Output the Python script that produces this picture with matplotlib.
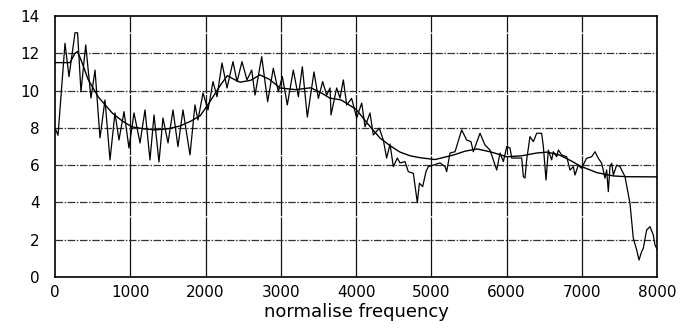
import matplotlib
matplotlib.use("Agg")
import matplotlib.pyplot as plt

# noisy spectrum (frequency, value)
spec_x = [0, 40, 133, 186, 266, 300, 345, 408, 478, 532, 598, 664, 731, 797, 850, 917, 983, 1050,
          1130, 1196, 1262, 1316, 1382, 1435, 1502, 1568, 1634, 1701, 1794, 1860, 1900, 1967, 2033,
          2100, 2153, 2219, 2286, 2365, 2419, 2485, 2551, 2614, 2658, 2747, 2826, 2901, 2968, 3021,
          3087, 3167, 3234, 3287, 3353, 3442, 3500, 3557, 3610, 3655, 3668, 3743, 3787, 3832, 3876,
          3942, 4009, 4076, 4120, 4186, 4230, 4310, 4363, 4407, 4452, 4496, 4549, 4585, 4651, 4695,
          4762, 4797, 4815, 4842, 4886, 4930, 4961, 5027, 5116, 5183, 5205, 5249, 5316, 5404, 5471,
          5528, 5559, 5648, 5714, 5781, 5825, 5870, 5914, 5958, 6003, 6047, 6069, 6202, 6224, 6246,
          6268, 6312, 6357, 6401, 6467, 6490, 6525, 6556, 6600, 6622, 6667, 6689, 6733, 6800, 6844,
          6888, 6910, 6954, 6998, 7064, 7132, 7176, 7220, 7265, 7309, 7331, 7353, 7375, 7398, 7420,
          7464, 7508, 7575, 7641, 7685, 7730, 7761, 7796, 7818, 7862, 7907, 7951, 7973, 8000]
spec_y = [8.0, 7.6, 12.54, 10.75, 13.1, 13.1, 9.94, 12.45, 9.6, 11.1, 7.46, 9.5, 6.28, 8.8, 7.35, 8.87, 6.92, 8.8,
          7.19, 8.96, 6.28, 8.69, 6.17, 8.53, 7.19, 8.96, 6.99, 8.96, 6.55, 9.23, 8.42, 9.87, 8.96,
          10.48, 9.67, 11.48, 10.14, 11.55, 10.48, 11.55, 10.57, 11.1, 9.76, 11.82, 9.4, 11.2, 9.94, 10.75,
          9.23, 11.1, 9.67, 11.28, 8.58, 11.0, 9.58, 10.48, 9.76, 10.14, 8.69, 10.14, 9.6, 10.57, 9.23,
          9.58, 8.53, 9.33, 8.06, 8.8, 7.62, 7.98, 7.35, 6.38, 7.13, 5.92, 6.38, 6.12, 6.19, 5.65,
          5.56, 4.5, 3.99, 5.03, 4.85, 5.65, 5.92, 6.0, 6.12, 5.92, 5.65, 6.65, 6.72, 7.89, 7.35,
          7.26, 6.72, 7.71, 7.08, 6.81, 6.28, 5.74, 6.65, 6.19, 6.99, 6.92, 6.38, 6.38, 5.38, 5.31,
          6.28, 7.53, 7.26, 7.71, 7.71, 6.99, 5.2, 6.81, 6.28, 6.72, 6.45, 6.81, 6.55, 6.45, 5.74,
          5.92, 5.47, 6.0, 5.83, 6.37, 6.45, 6.72, 6.37, 6.1, 5.3, 5.74, 4.58, 5.92, 6.1, 5.47,
          6.0, 5.92, 5.38, 3.95, 2.08, 1.45, 0.91, 1.36, 1.54, 2.52, 2.7, 2.25, 1.72, 1.5]

# smooth envelope
env_x = [0, 200, 265, 300, 350, 440, 575, 760, 900, 1025, 1180, 1330, 1500, 1660, 1800, 1930, 2050,
         2200, 2290, 2380, 2460, 2600, 2725, 2850, 2990, 3200, 3400, 3550, 3650, 3800, 4000, 4160,
         4320, 4450, 4585, 4720, 4850, 5050, 5300, 5450, 5610, 5800, 6000, 6200, 6400, 6540, 6700,
         6850, 6980, 7200, 7420, 7600, 8000]
env_y = [11.5, 11.5, 12.0, 12.1, 11.6, 10.6, 9.66, 8.8, 8.35, 8.05, 7.95, 7.89, 7.95, 8.1, 8.35, 8.65, 9.35,
         10.3, 10.8, 10.6, 10.45, 10.55, 10.84, 10.6, 10.14, 10.05, 10.15, 9.85, 9.6, 9.5, 9.0, 8.2,
         7.45, 7.05, 6.7, 6.5, 6.4, 6.3, 6.55, 6.75, 6.87, 6.7, 6.45, 6.5, 6.65, 6.7, 6.55,
         6.25, 5.95, 5.6, 5.42, 5.38, 5.37]

x_ticks = [0, 1000, 2000, 3000, 4000, 5000, 6000, 7000, 8000]
y_ticks = [0, 2, 4, 6, 8, 10, 12, 14]
x_label = "normalise frequency"

fig = plt.figure(figsize=(6.91, 3.29), dpi=100)
ax = fig.add_axes([55 / 691, 1 - 277 / 329, 602 / 691, 261 / 329])

ax.set_xlim(0, 8000)
ax.set_ylim(0, 14)

# grid
for xv in x_ticks[1:-1]:
    ax.axvline(xv, color="#111111", lw=0.9, ls=(0, (48, 1)), zorder=1)
for yv in y_ticks[1:-1]:
    ax.axhline(yv, color="#333333", lw=0.9, ls=(0, (6, 1.3, 1.2, 1.3)), zorder=1)

ax.plot(env_x, env_y, color="black", lw=1.0, zorder=3)
ax.plot(spec_x, spec_y, color="black", lw=0.9, zorder=4)

ax.set_xticks(x_ticks)
ax.set_yticks(y_ticks)
ax.set_xticklabels([str(v) for v in x_ticks])
ax.set_yticklabels([str(v) for v in y_ticks])
ax.tick_params(axis="both", length=0, labelsize=11, colors="black")
ax.tick_params(axis="y", pad=11)
ax.tick_params(axis="x", pad=6)
for lab in ax.get_xticklabels() + ax.get_yticklabels():
    lab.set_family("DejaVu Sans")
ax.set_xlabel(x_label, fontsize=13, family="DejaVu Sans", labelpad=2)

for sp in ax.spines.values():
    sp.set_color("black")
    sp.set_linewidth(1.2)

fig.savefig("out.png", dpi=100)
